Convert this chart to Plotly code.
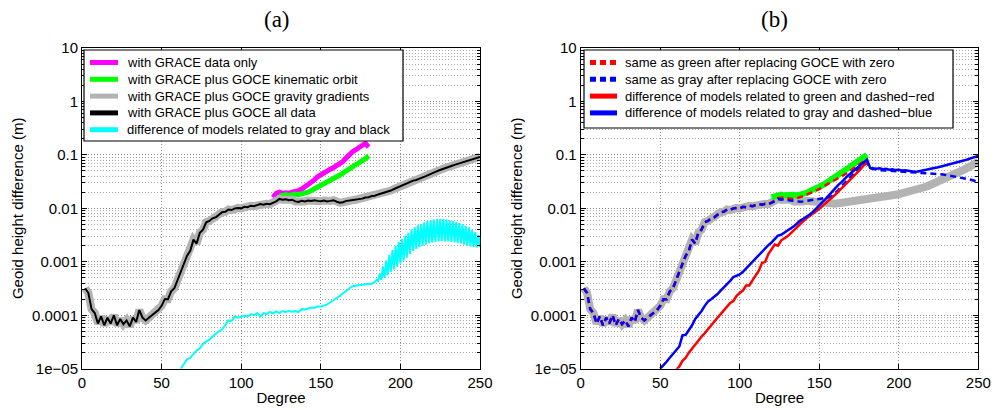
import plotly.graph_objects as go

# ---------------- data ----------------
deg_even = list(range(2, 251, 2))  # spherical-harmonic degree, step 2

# with GRACE plus GOCE all data (black), degrees 2..250 step 2
all_data = [
    3.2e-4, 2.6e-4, 1.3e-4, 1.1e-4, 7.0e-5, 9.5e-5, 6.5e-5, 9.0e-5, 7.0e-5, 1.0e-4,
    6.5e-5, 8.5e-5, 6.8e-5, 8.0e-5, 6.2e-5, 9.0e-5, 7.5e-5, 1.25e-4, 9.0e-5, 8.0e-5,
    9.0e-5, 1.0e-4, 1.1e-4, 1.25e-4, 1.5e-4, 2.0e-4, 2.0e-4, 2.8e-4, 3.2e-4, 4.5e-4,
    6.5e-4, 8.5e-4, 1.3e-3, 1.6e-3, 2.6e-3, 2.2e-3, 3.5e-3, 4.0e-3, 5.5e-3, 5.8e-3,
    6.5e-3, 6.8e-3, 7.5e-3, 8.5e-3, 8.6e-3, 9.5e-3, 9.3e-3, 1.0e-2, 1.02e-2, 1.0e-2,
    1.07e-2, 1.05e-2, 1.12e-2, 1.1e-2, 1.15e-2, 1.2e-2, 1.17e-2, 1.22e-2, 1.2e-2, 1.28e-2,
    1.35e-2, 1.5e-2, 1.45e-2, 1.48e-2, 1.42e-2, 1.45e-2, 1.35e-2, 1.32e-2, 1.38e-2, 1.35e-2,
    1.4e-2, 1.37e-2, 1.42e-2, 1.38e-2, 1.36e-2, 1.4e-2, 1.35e-2, 1.38e-2, 1.42e-2, 1.33e-2,
    1.28e-2, 1.3e-2, 1.38e-2, 1.4e-2, 1.42e-2, 1.45e-2, 1.5e-2, 1.52e-2, 1.6e-2, 1.62e-2,
    1.7e-2, 1.72e-2, 1.82e-2, 1.9e-2, 1.95e-2, 2.1e-2, 2.15e-2, 2.3e-2, 2.45e-2, 2.6e-2,
    2.7e-2, 2.9e-2, 3.1e-2, 3.3e-2, 3.4e-2, 3.65e-2, 3.8e-2, 4.0e-2, 4.3e-2, 4.5e-2,
    4.8e-2, 5.1e-2, 5.4e-2, 5.7e-2, 6.0e-2, 6.2e-2, 6.5e-2, 6.8e-2, 7.1e-2, 7.4e-2,
    7.7e-2, 8.0e-2, 8.4e-2, 8.8e-2, 9.2e-2,
]

# with GRACE data only (magenta), degrees 120..180 step 2
deg_grace = list(range(120, 181, 2))
grace_only = [
    1.6e-2, 1.9e-2, 2.0e-2, 1.9e-2, 1.95e-2, 1.9e-2, 2.0e-2, 2.05e-2, 2.15e-2, 2.3e-2,
    2.5e-2, 2.7e-2, 3.0e-2, 3.4e-2, 3.9e-2, 4.3e-2, 4.6e-2, 5.0e-2, 5.4e-2, 5.8e-2,
    6.3e-2, 6.8e-2, 7.6e-2, 8.8e-2, 1.02e-1, 1.15e-1, 1.25e-1, 1.35e-1, 1.5e-1, 1.65e-1,
    1.4e-1,
]

# with GRACE plus GOCE kinematic orbit (green), degrees 124..180 step 2
deg_kin = list(range(124, 181, 2))
kinematic = [
    1.7e-2, 1.75e-2, 1.8e-2, 1.75e-2, 1.8e-2, 1.85e-2, 1.8e-2, 1.85e-2, 1.9e-2, 2.0e-2,
    2.15e-2, 2.3e-2, 2.5e-2, 2.7e-2, 2.9e-2, 3.1e-2, 3.4e-2, 3.6e-2, 3.9e-2, 4.2e-2,
    4.6e-2, 5.2e-2, 5.8e-2, 6.3e-2, 6.6e-2, 7.1e-2, 7.6e-2, 8.5e-2, 9.6e-2,
]

# difference of models related to gray and black (cyan)
deg_cyan = list(range(62, 185, 2)) + list(range(185, 251))
diff_gray_black = [
    1.0e-5, 1.2e-5, 1.5e-5, 1.6e-5, 1.9e-5, 2.2e-5, 2.4e-5, 2.9e-5, 3.2e-5, 3.5e-5,
    4.0e-5, 4.5e-5, 5.0e-5, 5.4e-5, 6.5e-5, 8.0e-5, 7.8e-5, 9.5e-5, 9.0e-5, 9.5e-5,
    9.8e-5, 9.5e-5, 1.05e-4, 1.0e-4, 1.1e-4, 9.5e-5, 1.1e-4, 1.05e-4, 1.15e-4, 1.08e-4,
    1.18e-4, 1.1e-4, 1.2e-4, 1.15e-4, 1.2e-4, 1.17e-4, 1.2e-4, 1.15e-4, 1.3e-4, 1.28e-4,
    1.35e-4, 1.4e-4, 1.38e-4, 1.45e-4, 1.45e-4, 1.5e-4, 1.6e-4, 1.75e-4, 1.95e-4, 2.1e-4,
    2.3e-4, 2.6e-4, 2.9e-4, 3.2e-4, 3.5e-4, 3.6e-4, 3.7e-4, 3.75e-4, 3.8e-4, 3.85e-4,
    3.9e-4, 4.2e-4,
    # 185..250, one value per degree (odd/even oscillation)
    4.6e-4, 4.4e-4, 6.0e-4, 4.6e-4, 8.0e-4, 5.0e-4, 1.05e-3, 5.6e-4, 1.35e-3, 6.5e-4,
    1.65e-3, 7.2e-4, 2.0e-3, 8.2e-4, 2.35e-3, 9.2e-4, 2.7e-3, 1.05e-3, 3.05e-3, 1.2e-3,
    3.5e-3, 1.4e-3, 4.0e-3, 1.6e-3, 4.4e-3, 1.75e-3, 4.8e-3, 1.9e-3, 5.1e-3, 2.0e-3,
    5.5e-3, 2.1e-3, 5.8e-3, 2.2e-3, 6.0e-3, 2.3e-3, 6.2e-3, 2.35e-3, 6.3e-3, 2.4e-3,
    6.4e-3, 2.45e-3, 6.3e-3, 2.4e-3, 6.2e-3, 2.4e-3, 6.0e-3, 2.35e-3, 5.8e-3, 2.3e-3,
    5.6e-3, 2.25e-3, 5.3e-3, 2.2e-3, 5.0e-3, 2.1e-3, 4.7e-3, 2.0e-3, 4.4e-3, 1.95e-3,
    4.0e-3, 1.9e-3, 3.6e-3, 1.85e-3, 3.2e-3, 1.9e-3,
]

# panel (b): gravity-gradients model (gray), tail for degrees 142..250
gradients_b_tail = [
    1.38e-2, 1.35e-2, 1.33e-2, 1.3e-2, 1.3e-2, 1.28e-2, 1.25e-2, 1.25e-2, 1.22e-2, 1.22e-2,
    1.25e-2, 1.27e-2, 1.3e-2, 1.32e-2, 1.33e-2, 1.35e-2, 1.38e-2, 1.4e-2, 1.43e-2, 1.45e-2,
    1.48e-2, 1.52e-2, 1.55e-2, 1.58e-2, 1.62e-2, 1.66e-2, 1.7e-2, 1.75e-2, 1.8e-2, 1.85e-2,
    1.9e-2, 1.96e-2, 2.02e-2, 2.1e-2, 2.18e-2, 2.27e-2, 2.37e-2, 2.48e-2, 2.6e-2, 2.75e-2,
    2.9e-2, 3.05e-2, 3.25e-2, 3.45e-2, 3.65e-2, 3.9e-2, 4.15e-2, 4.45e-2, 4.75e-2, 5.1e-2,
    5.5e-2, 5.9e-2, 6.4e-2, 6.9e-2, 7.5e-2,
]
gradients_b = all_data[:70] + gradients_b_tail

# green model in panel (b), degrees 120..180 step 2
deg_kin_b = list(range(120, 181, 2))
kinematic_b = [
    1.6e-2, 1.7e-2, 1.75e-2, 1.8e-2, 1.75e-2, 1.8e-2, 1.85e-2, 1.8e-2, 1.75e-2, 1.8e-2,
    1.85e-2, 1.95e-2, 2.1e-2, 2.2e-2, 2.35e-2, 2.5e-2, 2.7e-2, 2.95e-2, 3.2e-2, 3.5e-2,
    3.8e-2, 4.2e-2, 4.6e-2, 5.1e-2, 5.6e-2, 6.2e-2, 6.8e-2, 7.4e-2, 8.2e-2, 9.2e-2,
    1.0e-1,
]

# same as green after replacing GOCE with zero (dashed red), tail 122..180
zero_green_tail = [
    1.4e-2, 1.55e-2, 1.6e-2, 1.6e-2, 1.55e-2, 1.5e-2, 1.5e-2, 1.55e-2, 1.6e-2, 1.7e-2,
    1.8e-2, 1.9e-2, 2.0e-2, 2.15e-2, 2.3e-2, 2.5e-2, 2.7e-2, 2.9e-2, 3.1e-2, 3.3e-2,
    3.6e-2, 3.9e-2, 4.3e-2, 4.7e-2, 5.2e-2, 5.7e-2, 6.2e-2, 6.8e-2, 7.6e-2, 8.2e-2,
]
zero_green = all_data[:60] + zero_green_tail
deg_zero_green = list(range(2, 181, 2))

# same as gray after replacing GOCE with zero (dashed blue), tail 132..250
zero_gray_tail = [
    1.4e-2, 1.38e-2, 1.35e-2, 1.33e-2, 1.35e-2, 1.38e-2, 1.4e-2, 1.42e-2, 1.45e-2, 1.48e-2,
    1.52e-2, 1.56e-2, 1.6e-2, 1.7e-2, 1.9e-2, 2.2e-2, 2.6e-2, 3.0e-2, 3.5e-2, 4.0e-2,
    4.6e-2, 5.3e-2, 6.0e-2, 6.6e-2, 7.0e-2,
    5.6e-2, 5.4e-2, 5.3e-2, 5.2e-2, 5.15e-2, 5.1e-2, 5.05e-2, 5.0e-2, 5.0e-2, 4.95e-2,
    4.95e-2, 4.9e-2, 4.9e-2, 4.85e-2, 4.8e-2, 4.75e-2, 4.7e-2, 4.65e-2, 4.6e-2, 4.55e-2,
    4.5e-2, 4.45e-2, 4.4e-2, 4.3e-2, 4.2e-2, 4.1e-2, 4.0e-2, 3.9e-2, 3.85e-2, 3.75e-2,
    3.65e-2, 3.5e-2, 3.4e-2, 3.25e-2, 3.1e-2,
]
zero_gray = all_data[:65] + zero_gray_tail

# difference of models related to green and dashed-red (solid red), 60..180
deg_diff_red = list(range(60, 181, 2))
diff_green = [
    9.5e-6, 1.1e-5, 1.4e-5, 1.6e-5, 2.0e-5, 2.4e-5, 2.9e-5, 3.3e-5, 4.0e-5, 4.6e-5,
    5.5e-5, 6.5e-5, 7.5e-5, 9.0e-5, 1.05e-4, 1.25e-4, 1.45e-4, 1.7e-4, 1.85e-4, 2.3e-4,
    2.6e-4, 2.9e-4, 3.6e-4, 3.6e-4, 4.5e-4, 5.5e-4, 6.8e-4, 9.5e-4, 1.0e-3, 1.4e-3,
    1.7e-3, 2.1e-3, 2.0e-3, 2.5e-3, 2.75e-3, 3.0e-3, 3.4e-3, 3.9e-3, 4.5e-3, 5.2e-3,
    5.8e-3, 6.5e-3, 7.1e-3, 7.9e-3, 8.8e-3, 9.8e-3, 1.1e-2, 1.25e-2, 1.42e-2, 1.6e-2,
    1.8e-2, 2.05e-2, 2.35e-2, 2.7e-2, 3.1e-2, 3.5e-2, 4.0e-2, 4.6e-2, 5.4e-2, 6.4e-2,
    7.2e-2,
]

# difference of models related to gray and dashed-blue (solid blue), 50..250
deg_diff_blue = list(range(50, 251, 2))
diff_gray = [
    1.0e-5, 1.15e-5, 1.35e-5, 1.6e-5, 1.9e-5, 2.2e-5, 2.6e-5, 4.2e-5, 4.3e-5, 5.3e-5,
    6.5e-5, 8.5e-5, 1.0e-4, 1.2e-4, 1.5e-4, 1.8e-4, 2.0e-4, 2.2e-4, 2.5e-4, 2.9e-4,
    3.3e-4, 3.9e-4, 4.4e-4, 5.2e-4, 5.5e-4, 5.8e-4, 6.5e-4, 7.5e-4, 8.8e-4, 1.02e-3,
    1.18e-3, 1.35e-3, 1.55e-3, 1.8e-3, 2.05e-3, 2.3e-3, 2.7e-3, 3.1e-3, 3.2e-3, 3.5e-3,
    3.8e-3, 4.3e-3, 4.6e-3, 5.2e-3, 5.9e-3, 6.4e-3, 6.9e-3, 7.7e-3, 8.6e-3, 9.8e-3,
    1.12e-2, 1.3e-2, 1.5e-2, 1.75e-2, 2.05e-2, 2.4e-2, 2.75e-2, 3.1e-2, 3.6e-2, 4.1e-2,
    4.6e-2, 5.2e-2, 5.9e-2, 6.6e-2, 7.5e-2, 8.2e-2, 5.7e-2, 5.6e-2, 5.5e-2, 5.6e-2,
    5.4e-2, 5.5e-2, 5.3e-2, 5.4e-2, 5.2e-2, 5.25e-2, 5.1e-2, 5.15e-2, 5.0e-2, 4.9e-2,
    4.85e-2, 4.9e-2, 5.0e-2, 5.2e-2, 5.35e-2, 5.5e-2, 5.6e-2, 5.8e-2, 6.0e-2, 6.2e-2,
    6.5e-2, 6.8e-2, 7.0e-2, 7.2e-2, 7.4e-2, 7.7e-2, 8.0e-2, 8.4e-2, 8.8e-2, 9.2e-2,
    9.6e-2,
]

ytick_vals = [1e-5, 1e-4, 1e-3, 1e-2, 1e-1, 1, 10]
ytick_text = ["1e\u221205", "0.0001", "0.001", "0.01", "0.1", "1", "10"]
xtick_vals = [0, 50, 100, 150, 200, 250]

legend_a_labels = [
    "with GRACE data only",
    "with GRACE plus GOCE kinematic orbit",
    "with GRACE plus GOCE gravity gradients",
    "with GRACE plus GOCE all data",
    "difference of models related to gray and black",
]
legend_b_labels = [
    "same as green after replacing GOCE with zero",
    "same as gray after replacing GOCE with zero",
    "difference of models related to green and dashed\u2212red",
    "difference of models related to gray and dashed\u2212blue",
]

MAGENTA, GREEN, GRAY, BLACK, CYAN = "#ff00ff", "#00ff00", "#b3b3b3", "#000000", "#00ffff"
RED, BLUE = "#ff0000", "#0000ff"
DASH = "6px,4px"

# ---------------- figure ----------------
# The page body has an 8 px margin, so the figure is drawn 8 px smaller and
# page-pixel positions are converted to figure pixels by subtracting 8.
OFF = 8
W, H = 1001 - OFF, 410 - OFF
fig = go.Figure()


def add(x, y, color, width, name, dash=None, xa="x", ya="y"):
    fig.add_trace(go.Scatter(
        x=x, y=y, mode="lines", name=name,
        line=dict(color=color, width=width, dash=dash),
        showlegend=False, xaxis=xa, yaxis=ya, hoverinfo="x+y+name",
    ))


# panel (a)
add(deg_grace, grace_only, MAGENTA, 5, legend_a_labels[0])
add(deg_kin, kinematic, GREEN, 5, legend_a_labels[1])
add(deg_even, all_data, GRAY, 8, legend_a_labels[2])
add(deg_even, all_data, BLACK, 2, legend_a_labels[3])
add(deg_cyan, diff_gray_black, CYAN, 2, legend_a_labels[4])

# panel (b)
add(deg_even, gradients_b, GRAY, 8, "gray", None, "x2", "y2")
add(deg_kin_b, kinematic_b, GREEN, 6, "green", None, "x2", "y2")
add(deg_zero_green, zero_green, RED, 2.5, legend_b_labels[0], DASH, "x2", "y2")
add(deg_even, zero_gray, BLUE, 2.5, legend_b_labels[1], DASH, "x2", "y2")
add(deg_diff_red, diff_green, RED, 2.5, legend_b_labels[2], None, "x2", "y2")
add(deg_diff_blue, diff_gray, BLUE, 2.5, legend_b_labels[3], None, "x2", "y2")

font_family = "Liberation Sans, Arial, Helvetica, sans-serif"
GRID_DASH = "1px,2px"


def px_x(v):
    return (v - OFF) / W


def px_y(v):
    return 1 - (v - OFF) / H


y_dom = [px_y(368.7), px_y(48)]


def xaxis(x0, x1, anchor):
    return dict(
        domain=[px_x(x0), px_x(x1)], anchor=anchor, range=[0, 250], automargin=False,
        tickmode="array", tickvals=xtick_vals,
        ticks="inside", ticklen=5, tickcolor="black",
        showline=True, linecolor="black", linewidth=1, mirror="ticks",
        showgrid=True, gridcolor="#8a8a8a", griddash=GRID_DASH, gridwidth=1,
        zeroline=False,
        tickfont=dict(family=font_family, size=15, color="black"),
        title=dict(text="Degree", font=dict(family=font_family, size=15, color="black"), standoff=2),
    )


def yaxis(anchor):
    return dict(
        domain=y_dom, anchor=anchor, type="log", range=[-5, 1], automargin=False,
        tickmode="array", tickvals=ytick_vals, ticktext=ytick_text,
        ticks="inside", ticklen=5, tickcolor="black",
        showline=True, linecolor="black", linewidth=1, mirror="ticks",
        showgrid=True, gridcolor="#8a8a8a", griddash=GRID_DASH, gridwidth=1,
        minor=dict(dtick="D1", ticks="inside", ticklen=3, tickcolor="black",
                   showgrid=True, gridcolor="#a8a8a8", griddash=GRID_DASH, gridwidth=1),
        zeroline=False,
        tickfont=dict(family=font_family, size=15, color="black"),
        title=dict(text="Geoid height difference (m)",
                   font=dict(family=font_family, size=15, color="black"), standoff=4),
    )


# ---- legends (boxes with line keys, placed in paper coordinates) ----
shapes = []
annotations = []


def legend_box(x0, x1, y0, y1, entries, key_x0, key_x1, text_x, row0, row_step):
    shapes.append(dict(type="rect", xref="paper", yref="paper", layer="above",
                       x0=px_x(x0), x1=px_x(x1), y0=px_y(y1), y1=px_y(y0),
                       line=dict(color="black", width=1.2), fillcolor="white"))
    for i, (label, color, dash) in enumerate(entries):
        yc = row0 + i * row_step
        shapes.append(dict(type="line", xref="paper", yref="paper", layer="above",
                           x0=px_x(key_x0), x1=px_x(key_x1), y0=px_y(yc), y1=px_y(yc),
                           line=dict(color=color, width=5, dash=dash)))
        annotations.append(dict(text=label, xref="paper", yref="paper",
                                x=px_x(text_x), y=px_y(yc), xanchor="left", yanchor="middle",
                                showarrow=False,
                                font=dict(family=font_family, size=13, color="black")))


legend_box(84, 403, 50, 141,
           list(zip(legend_a_labels, [MAGENTA, GREEN, GRAY, BLACK, CYAN], [None] * 5)),
           90, 118, 125, 62.5, 16.8)
legend_box(584, 953, 50, 128,
           list(zip(legend_b_labels, [RED, BLUE, RED, BLUE], [DASH, DASH, None, None])),
           590, 617, 623, 62.5, 16.8)

serif = "Liberation Serif, DejaVu Serif, serif"
annotations += [
    dict(text="(a)", x=px_x(277), y=px_y(20), xref="paper", yref="paper",
         showarrow=False, xanchor="center", yanchor="middle",
         font=dict(family=serif, size=23, color="black")),
    dict(text="(b)", x=px_x(774), y=px_y(20), xref="paper", yref="paper",
         showarrow=False, xanchor="center", yanchor="middle",
         font=dict(family=serif, size=23, color="black")),
]

fig.update_layout(
    width=W, height=H,
    margin=dict(l=0, r=0, t=0, b=0, autoexpand=False),
    paper_bgcolor="white", plot_bgcolor="white",
    showlegend=False,
    xaxis=xaxis(82, 480, "y"),
    yaxis=yaxis("x"),
    xaxis2=xaxis(580.7, 978.3, "y2"),
    yaxis2=yaxis("x2"),
    shapes=shapes,
    annotations=annotations,
)

fig.write_html("out.html")
